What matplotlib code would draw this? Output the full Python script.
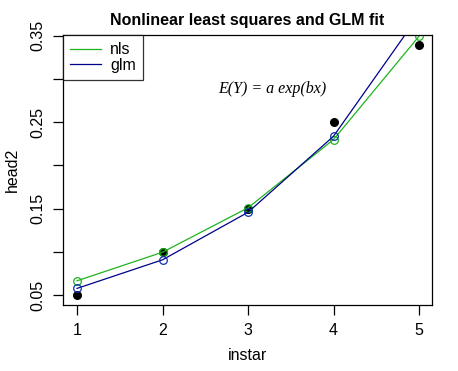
import numpy as np
import matplotlib.pyplot as plt

instar = [1, 2, 3, 4, 5]
head2 = [0.05, 0.10, 0.15, 0.25, 0.34]
nls_fit = [0.0665, 0.0996, 0.151, 0.230, 0.3495]
glm_fit = [0.0577, 0.0908, 0.1458, 0.2338, 0.374]

plt.rcParams['font.family'] = ['Liberation Sans', 'DejaVu Sans']

fig = plt.figure(figsize=(4.58, 3.71), dpi=100)
ax = fig.add_axes([63/458, 1 - 305/371, (432-63)/458, (305-35)/371])

green = '#1DB41D'
navy = '#00008B'

ax.plot(instar, nls_fit, color=green, lw=0.9, marker='o', mfc='none', mec=green, ms=5.5, mew=0.9)
ax.plot(instar, glm_fit, color=navy, lw=0.9, marker='o', mfc='none', mec='#1030B0', ms=5.5, mew=0.9)
ax.plot(instar, head2, 'o', color='black', ms=5.5, zorder=1)

ax.set_xlim(0.836, 5.152)
ax.set_ylim(0.0385, 0.351)
ax.set_xticks(instar)
ax.set_yticks([0.05, 0.10, 0.15, 0.20, 0.25, 0.30, 0.35])
ax.set_yticklabels(['0.05', '', '0.15', '', '0.25', '', '0.35'], rotation=90, va='center')
ax.tick_params(direction='out', length=7, width=0.9, labelsize=11.5, pad=6)
for s in ax.spines.values():
    s.set_linewidth(0.9)

ax.set_xlabel('instar', fontsize=11.5, labelpad=7)
ax.set_ylabel('head2', fontsize=11.5, labelpad=7)
ax.set_title('Nonlinear least squares and GLM fit', fontsize=11.5, fontweight='bold', pad=7)

ax.text(3.29, 0.288, 'E(Y) = a exp(bx)', fontsize=11.5, style='italic',
        family=['Liberation Serif', 'DejaVu Serif'], ha='center', va='center')

leg = ax.legend(['nls', 'glm'], loc='upper left', fontsize=11.5, frameon=True, fancybox=False,
                borderaxespad=0, handlelength=1.9, handletextpad=0.6, borderpad=0.45,
                labelspacing=0.05, markerscale=0)
leg.get_frame().set_edgecolor('black')
leg.get_frame().set_linewidth(0.9)
for h in leg.legend_handles:
    h.set_marker('')

fig.savefig('out.png', dpi=100)
